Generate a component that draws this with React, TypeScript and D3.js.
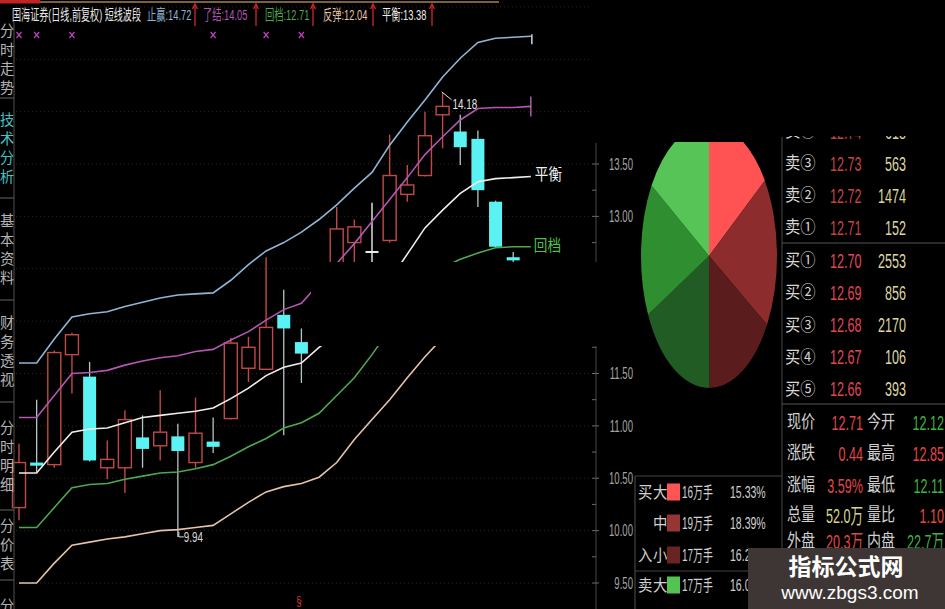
import React from 'react';
import * as d3 from 'd3';

const W = 945;
const H = 609;
const FONT = "'Liberation Sans', 'Noto Sans CJK SC', sans-serif";

// ---- daily candles (前复权) ----
const opens  = [10.22, 10.65, 10.63, 11.68, 11.47, 10.60, 10.60, 10.89, 10.81, 10.90, 10.65, 10.85, 11.07, 11.55, 11.54, 12.06, 11.80, 11.85, 12.40, 12.75, 12.66, 12.77, 13.21, 13.39, 13.97, 13.81, 13.74, 13.14, 12.61];
const highs  = [10.83, 11.25, 11.72, 11.89, 11.61, 10.86, 11.15, 11.10, 11.34, 11.02, 11.27, 11.08, 11.84, 11.85, 12.61, 12.30, 11.93, 12.40, 13.09, 12.97, 13.13, 13.78, 13.49, 14.00, 14.18, 13.97, 13.82, 13.15, 12.66];
const lows   = [10.10, 10.56, 10.60, 11.31, 10.66, 10.49, 10.36, 10.60, 10.67, 9.94, 10.60, 10.74, 11.06, 11.42, 11.53, 10.91, 11.41, 11.80, 12.30, 12.50, 12.40, 12.75, 13.14, 13.38, 13.65, 13.49, 13.09, 12.70, 12.56];
const closes = [10.65, 10.62, 11.70, 11.87, 10.67, 10.68, 11.06, 10.78, 10.94, 10.76, 10.93, 10.80, 11.79, 11.75, 11.94, 11.93, 11.69, 12.30, 12.88, 12.90, 12.66, 13.39, 13.30, 13.77, 14.05, 13.66, 13.25, 12.71, 12.58];

// ---- 短线波段 indicator lines (one point per bar, plus one projected bar) ----
const stopProfit = [11.60, 11.60, 11.83, 12.04, 12.07, 12.09, 12.14, 12.18, 12.22, 12.25, 12.26, 12.27, 12.39, 12.54, 12.67, 12.75, 12.85, 12.97, 13.11, 13.27, 13.42, 13.68, 13.90, 14.11, 14.33, 14.51, 14.66, 14.70, 14.71, 14.72];
const takeProfit = [11.08, 11.08, 11.29, 11.50, 11.51, 11.53, 11.58, 11.62, 11.65, 11.67, 11.71, 11.73, 11.82, 11.90, 12.01, 12.11, 12.17, 12.36, 12.55, 12.74, 12.95, 13.16, 13.37, 13.59, 13.76, 13.92, 14.03, 14.04, 14.04, 14.05];
const balance    = [10.55, 10.55, 10.75, 10.94, 10.97, 10.98, 11.03, 11.08, 11.10, 11.12, 11.14, 11.17, 11.26, 11.36, 11.48, 11.56, 11.60, 11.75, 11.87, 12.03, 12.20, 12.39, 12.64, 12.89, 13.06, 13.22, 13.33, 13.36, 13.37, 13.38];
const pullback   = [10.03, 10.03, 10.22, 10.41, 10.44, 10.45, 10.49, 10.52, 10.55, 10.56, 10.59, 10.63, 10.71, 10.80, 10.88, 10.98, 11.03, 11.12, 11.29, 11.46, 11.68, 11.92, 12.15, 12.35, 12.51, 12.59, 12.65, 12.70, 12.71, 12.71];
const rebound    = [9.50, 9.50, 9.69, 9.86, 9.89, 9.92, 9.94, 9.97, 10.00, 10.01, 10.03, 10.05, 10.16, 10.27, 10.37, 10.42, 10.45, 10.51, 10.65, 10.87, 11.06, 11.25, 11.46, 11.66, 11.84, 11.93, 12.00, 12.02, 12.03, 12.04];

const lineNames = ['止赢', '了结', '回档', '反弹', '平衡'];
const lineSeries = [stopProfit, takeProfit, pullback, rebound, balance];
const lineColors = ['#8fb6d6', '#b456b4', '#4fa84f', '#e6c2aa', '#f2ecec'];

const signalBars = [0, 1, 3, 11, 14, 16];
const priceTicks = [9.5, 10, 10.5, 11, 11.5, 12, 12.5, 13, 13.5];

// ---- 五档盘口 ----
const askLabels = ['卖④', '卖③', '卖②', '卖①'];
const askPrices = ['12.74', '12.73', '12.72', '12.71'];
const askVols = ['618', '563', '1474', '152'];
const bidLabels = ['买①', '买②', '买③', '买④', '买⑤'];
const bidPrices = ['12.70', '12.69', '12.68', '12.67', '12.66'];
const bidVols = ['2553', '856', '2170', '106', '393'];

// ---- 行情统计 ----
const statLabelsL = ['现价', '涨跌', '涨幅', '总量', '外盘'];
const statValuesL = ['12.71', '0.44', '3.59%', '52.0万', '20.3万'];
const statColorsL = ['#e04848', '#e04848', '#e04848', '#d8d48e', '#e04848'];
const statLabelsR = ['今开', '最高', '最低', '量比', '内盘'];
const statValuesR = ['12.12', '12.85', '12.11', '1.10', '22.7万'];
const statColorsR = ['#3fb43f', '#e04848', '#3fb43f', '#e04848', '#3fb43f'];

// ---- 资金流向 ----
const flowSide = ['买', '', '入', '卖'];
const flowSize = ['大', '中', '小', '大'];
const flowVol = ['16万手', '19万手', '17万手', '17万手'];
const flowPct = [15.33, 18.39, 16.2, 16.03];
const flowColors = ['#ff5555', '#973434', '#6a2323', '#52c452'];

// 饼图: 买入 大/中/小, 卖出 小/中/大
const pieShares = [15.33, 18.39, 16.2, 17.75, 16.3, 16.03];
const pieColors = ['#ff5252', '#8c2c2c', '#5a1c1c', '#215c24', '#2f8f30', '#56c456'];

const sideTabs = ['分时走势', '技术分析', '基本资料', '财务透视', '分时明细', '分价表', '分笔'];
const tabEdges = [0, 98, 198, 300, 402, 510, 580, 650];

type TP = {
  x: number;
  y: number;
  s?: number;
  sx?: number;
  a?: 'start' | 'middle' | 'end';
  f?: string;
  w?: number;
  len?: number;
  children: React.ReactNode;
};
const T = ({ x, y, s = 14, sx = 1, a = 'start', f = '#cccccc', w = 400, len, children }: TP) =>
  len ? (
    <text
      x={x}
      y={y + s * 0.36}
      fontSize={s}
      textAnchor={a}
      fill={f}
      fontWeight={w}
      fontFamily={FONT}
      textLength={len}
      lengthAdjust="spacingAndGlyphs"
    >
      {children}
    </text>
  ) : (
    <text
      transform={`translate(${x},${y + s * 0.36}) scale(${sx},1)`}
      fontSize={s}
      textAnchor={a}
      fill={f}
      fontWeight={w}
      fontFamily={FONT}
    >
      {children}
    </text>
  );

export default function App() {
  const x = d3.scaleLinear().domain([0, 29]).range([19, 530.85]);
  const y = d3.scaleLinear().domain([9.5, 13.5]).range([583, 164]);
  const bodyW = 13;

  const line = d3
    .line<number>()
    .x((_, i) => x(i))
    .y((d) => y(d));

  const hiIdx = d3.maxIndex(highs);
  const loIdx = d3.minIndex(lows);

  const pie = d3.pie<number>().sort(null).value((d) => d)(pieShares);
  const arc = d3.arc<d3.PieArcDatum<number>>().innerRadius(0).outerRadius(132);

  const gridVals = d3.range(9.5, 15.01, 0.5);
  const minorTicks = d3.range(9.5, 13.51, 0.25);

  const titleX = [147, 203, 265, 323, 382];
  const markX = [195, 256, 313, 373, 432];
  const statY = [422, 453, 485, 515, 541];
  const flowY = [492, 523, 555, 585];

  return (
    <div style={{ position: 'fixed', left: 0, top: 0, width: W, height: H, background: '#000' }}>
      <svg width={W} height={H} style={{ display: 'block' }}>
        <defs>
          <clipPath id="pieClip">
            <rect x={600} y={142} width={190} height={260} />
          </clipPath>
        </defs>
        <rect width={W} height={H} fill="#000" />

        {/* top strip */}
        <rect x={0} y={0} width={40} height={3.5} fill="#c22222" />
        <line x1={40} x2={499} y1={2} y2={2} stroke="#7a6234" strokeWidth={2} />

        {/* dotted price grid */}
        {gridVals.map((v) => (
          <line key={v} x1={16} x2={590} y1={y(v)} y2={y(v)} stroke="#352222" strokeDasharray="1,3" />
        ))}

        {/* candles */}
        {opens.map((o, i) => {
          const c = closes[i];
          const cx = x(i);
          const yh = y(highs[i]);
          const yl = y(lows[i]);
          if (Math.abs(c - o) < 0.001) {
            return (
              <g key={i} stroke="#ececec" strokeWidth={1.4}>
                <line x1={cx} x2={cx} y1={yh} y2={yl} />
                <line x1={cx - bodyW / 2} x2={cx + bodyW / 2} y1={y(o)} y2={y(o)} strokeWidth={2} />
              </g>
            );
          }
          if (c > o) {
            const top = y(c);
            const bot = y(o);
            return (
              <g key={i} stroke="#c04a46" strokeWidth={1.4}>
                <line x1={cx} x2={cx} y1={yh} y2={top} />
                <line x1={cx} x2={cx} y1={bot} y2={yl} />
                <rect x={cx - bodyW / 2} y={top} width={bodyW} height={Math.max(1, bot - top)} fill="#000" />
              </g>
            );
          }
          const top = y(o);
          const bot = y(c);
          return (
            <g key={i}>
              <line x1={cx} x2={cx} y1={yh} y2={yl} stroke="#b4c6c6" strokeWidth={1.3} />
              <rect x={cx - bodyW / 2} y={top} width={bodyW} height={Math.max(2, bot - top)} fill="#5af2f2" />
            </g>
          );
        })}

        {/* indicator lines */}
        {lineSeries.map((s, k) => (
          <path key={k} d={line(s) || ''} fill="none" stroke={lineColors[k]} strokeWidth={1.6} />
        ))}

        {/* extreme price marks */}
        <line x1={x(hiIdx) - 1} y1={y(highs[hiIdx]) - 1} x2={x(hiIdx) + 9} y2={y(highs[hiIdx]) + 7} stroke="#dddddd" strokeWidth={1} />
        <T x={x(hiIdx) + 10} y={y(highs[hiIdx]) + 11} s={15} sx={0.66} f="#e6e6e6">{highs[hiIdx].toFixed(2)}</T>
        <line x1={x(loIdx) + 1} y1={y(lows[loIdx])} x2={x(loIdx) + 6} y2={y(lows[loIdx])} stroke="#dddddd" strokeWidth={1} />
        <line x1={x(loIdx) + 1} y1={y(lows[loIdx]) - 5} x2={x(loIdx) + 1} y2={y(lows[loIdx])} stroke="#dddddd" strokeWidth={1} />
        <T x={x(loIdx) + 6} y={y(lows[loIdx])} s={15} sx={0.66} f="#d8d8d8">{lows[loIdx].toFixed(2)}</T>

        {/* line end labels */}
        <line x1={x(29) + 1} x2={x(29) + 1} y1={y(stopProfit[29]) - 2} y2={y(stopProfit[29]) + 8} stroke="#c8d8e8" strokeWidth={1.5} />
        <line x1={x(29)} x2={x(29)} y1={y(takeProfit[29]) - 10} y2={y(takeProfit[29]) + 10} stroke="#c878c8" strokeWidth={1.2} />
        <T x={x(29) + 4} y={y(balance[29]) - 2} s={16} sx={0.85} f="#f0f0f0">平衡</T>
        <T x={x(29) + 3} y={y(pullback[29]) - 2} s={16} sx={0.85} f="#4fc04f">回档</T>

        {/* signal marks */}
        {signalBars.map((b) => (
          <g key={b} stroke="#c040c0" strokeWidth={1.2}>
            <line x1={x(b) - 2.5} x2={x(b) + 2.5} y1={32} y2={38} />
            <line x1={x(b) - 2.5} x2={x(b) + 2.5} y1={38} y2={32} />
          </g>
        ))}

        {/* title */}
        <T x={12} y={15} s={14.5} len={129} f="#e8e8e8">国海证券(日线,前复权) 短线波段</T>
        {lineNames.map((n, k) => (
          <g key={n}>
            <T x={titleX[k]} y={15} s={14.5} sx={0.64} f={lineColors[k]}>{`${n}:${lineSeries[k][lineSeries[k].length - 1].toFixed(2)}`}</T>
            <line x1={markX[k]} x2={markX[k]} y1={6} y2={26} stroke="#d02828" strokeWidth={1.3} />
            <path d={`M${markX[k] - 2.5},9 L${markX[k]},4 L${markX[k] + 2.5},9`} fill="none" stroke="#d02828" strokeWidth={1.3} />
          </g>
        ))}

        {/* hidden area of the chart */}
        <rect x={311} y={262} width={329} height={84} fill="#000" />

        {/* bottom date marker */}
        <T x={299} y={600} s={13} sx={0.8} a="middle" f="#d03030">§</T>

        {/* price axis */}
        <line x1={596} x2={596} y1={143} y2={262} stroke="#3c3c3c" strokeWidth={1.2} />
        <line x1={596} x2={596} y1={346} y2={H} stroke="#3c3c3c" strokeWidth={1.2} />
        {minorTicks.map((v) => {
          const yy = y(v);
          if (yy > 262 && yy < 346) return null;
          const major = Math.abs(v * 2 - Math.round(v * 2)) < 0.01;
          return <line key={v} x1={592} x2={major ? 599 : 596} y1={yy} y2={yy} stroke="#6a6a6a" strokeWidth={1} />;
        })}
        {priceTicks.map((v) => {
          const yy = y(v);
          if (yy > 258 && yy < 350) return null;
          return (
            <T key={v} x={633} y={yy} s={16} sx={0.6} a="end" f="#a4a4a4">{v.toFixed(2)}</T>
          );
        })}

        {/* pie */}
        <g clipPath="url(#pieClip)">
          <g transform={`translate(709,256) scale(${68 / 132},1)`}>
            {pie.map((p, i) => (
              <path key={i} d={arc(p) || ''} fill={pieColors[i]} />
            ))}
          </g>
        </g>

        {/* order book */}
        <line x1={782} x2={782} y1={137} y2={548} stroke="#3c3c3c" strokeWidth={1.2} />
        {askLabels.map((l, i) => {
          const cy = 131 + i * 32;
          return (
            <g key={l}>
              <T x={785} y={cy} s={17} sx={0.9} f="#d6d6d6">{l}</T>
              <T x={830} y={cy} s={21} sx={0.6} f="#c44444">{askPrices[i]}</T>
              <T x={906} y={cy} s={21} sx={0.6} a="end" f="#dcd6a4">{askVols[i]}</T>
            </g>
          );
        })}
        <line x1={782} x2={W} y1={243} y2={243} stroke="#555" strokeWidth={1.2} />
        {bidLabels.map((l, i) => {
          const cy = 260 + i * 32.2;
          return (
            <g key={l}>
              <T x={785} y={cy} s={17} sx={0.9} f="#d6d6d6">{l}</T>
              <T x={830} y={cy} s={21} sx={0.6} f="#e0465a">{bidPrices[i]}</T>
              <T x={906} y={cy} s={21} sx={0.6} a="end" f="#dcd6a4">{bidVols[i]}</T>
            </g>
          );
        })}
        <line x1={782} x2={W} y1={404} y2={404} stroke="#555" strokeWidth={1.2} />

        {/* stats */}
        {statLabelsL.map((l, i) => {
          const cy = statY[i];
          return (
            <g key={l}>
              <T x={787} y={cy} s={18} sx={0.78} f="#d0d0d0">{l}</T>
              <T x={863} y={cy} s={21} sx={0.6} a="end" f={statColorsL[i]}>{statValuesL[i]}</T>
              <T x={867} y={cy} s={18} sx={0.78} f="#d0d0d0">{statLabelsR[i]}</T>
              <T x={944} y={cy} s={21} sx={0.6} a="end" f={statColorsR[i]}>{statValuesR[i]}</T>
            </g>
          );
        })}

        {/* money flow table */}
        <line x1={635} x2={782} y1={476} y2={476} stroke="#444" strokeWidth={1.2} />
        <line x1={635} x2={635} y1={476} y2={H} stroke="#444" strokeWidth={1.2} />
        <line x1={635} x2={782} y1={571} y2={571} stroke="#444" strokeWidth={1.2} />
        {flowVol.map((v, i) => {
          const cy = flowY[i];
          return (
            <g key={i}>
              {flowSide[i] && <T x={638} y={cy} s={16} sx={0.9} f="#d0d0d0">{flowSide[i]}</T>}
              <T x={653} y={cy} s={16} sx={0.9} f="#d0d0d0">{flowSize[i]}</T>
              <rect x={667} y={cy - 8.5} width={13} height={17} fill={flowColors[i]} />
              <T x={682} y={cy} s={16} sx={0.62} f="#d0d0d0">{v}</T>
              <T x={730} y={cy} s={17} sx={0.62} f="#d0d0d0">{`${flowPct[i].toFixed(2)}%`}</T>
            </g>
          );
        })}

        {/* top right blank */}
        <rect x={590} y={0} width={355} height={136} fill="#000" />

        {/* watermark */}
        <rect x={748} y={548} width={197} height={61} fill="#3d3634" />
        <text x={846} y={575} fontSize={23} fontWeight={700} fill="#ffffff" textAnchor="middle" fontFamily="'Noto Sans CJK SC', sans-serif">指标公式网</text>
        <text x={850} y={599} fontSize={19} fill="#ffffff" textAnchor="middle" fontFamily="'Liberation Sans', sans-serif">www.zbgs3.com</text>

        {/* side tabs */}
        <line x1={14} x2={14} y1={22} y2={H} stroke="#444" strokeWidth={1.2} />
        {sideTabs.map((t, k) => {
          const mid = (tabEdges[k] + tabEdges[k + 1]) / 2 + (k === 0 ? 10 : 0);
          const chars = Array.from(t);
          const step = 19;
          const start = mid - ((chars.length - 1) * step) / 2;
          return (
            <g key={t}>
              {k > 0 && <line x1={0} x2={14} y1={tabEdges[k]} y2={tabEdges[k]} stroke="#555" strokeWidth={1.2} />}
              {chars.map((ch, j) => (
                <T key={j} x={7} y={start + j * step} s={15} sx={0.95} a="middle" f={k === 1 ? '#46c2c2' : '#b4b4b4'}>{ch}</T>
              ))}
            </g>
          );
        })}
      </svg>
    </div>
  );
}
